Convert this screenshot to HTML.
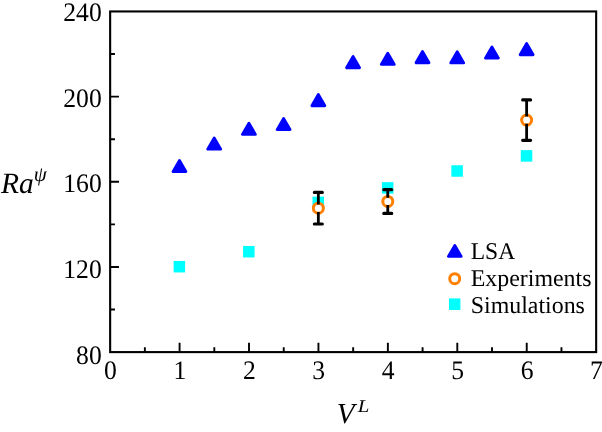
<!DOCTYPE html>
<html><head><meta charset="utf-8"><title>Ra vs V</title>
<style>
html,body{margin:0;padding:0;background:#fff;}
svg{display:block;}
text{font-family:"Liberation Serif","Times New Roman",serif;fill:#000;text-rendering:geometricPrecision;}
.tk{font-size:26.7px;}
.lg{font-size:24px;}
.ax{font-size:29px;font-style:italic;}
.sup{font-size:20px;font-style:italic;}
</style></head><body>
<svg width="602" height="432" viewBox="0 0 602 432">
<rect width="602" height="432" fill="#fff"/>
<rect x="110.15" y="11.45" width="486.01" height="340.65" fill="none" stroke="#000" stroke-width="2.1"/>
<path d="M144.87 352.10v-4.9 M179.58 352.10v-9.3 M214.30 352.10v-4.9 M249.01 352.10v-9.3 M283.73 352.10v-4.9 M318.44 352.10v-9.3 M353.16 352.10v-4.9 M387.87 352.10v-9.3 M422.59 352.10v-4.9 M457.30 352.10v-9.3 M492.01 352.10v-4.9 M526.73 352.10v-9.3 M561.45 352.10v-4.9 M110.15 309.52h4.8 M110.15 266.94h8.8 M110.15 224.36h4.8 M110.15 181.78h8.8 M110.15 139.19h4.8 M110.15 96.61h8.8 M110.15 54.03h4.8" stroke="#000" stroke-width="1.9" fill="none"/>
<text class="tk" transform="translate(101.7,21.0) scale(0.96,1)" text-anchor="end">240</text>
<text class="tk" transform="translate(101.7,106.5) scale(0.96,1)" text-anchor="end">200</text>
<text class="tk" transform="translate(101.7,192.4) scale(0.96,1)" text-anchor="end">160</text>
<text class="tk" transform="translate(101.7,277.9) scale(0.96,1)" text-anchor="end">120</text>
<text class="tk" transform="translate(101.7,364.3) scale(0.96,1)" text-anchor="end">80</text>
<text class="tk" transform="translate(110.45,379.0) scale(0.96,1)" text-anchor="middle">0</text>
<text class="tk" transform="translate(179.88,379.0) scale(0.96,1)" text-anchor="middle">1</text>
<text class="tk" transform="translate(249.31,379.0) scale(0.96,1)" text-anchor="middle">2</text>
<text class="tk" transform="translate(318.74,379.0) scale(0.96,1)" text-anchor="middle">3</text>
<text class="tk" transform="translate(388.17,379.0) scale(0.96,1)" text-anchor="middle">4</text>
<text class="tk" transform="translate(457.60,379.0) scale(0.96,1)" text-anchor="middle">5</text>
<text class="tk" transform="translate(527.03,379.0) scale(0.96,1)" text-anchor="middle">6</text>
<text class="tk" transform="translate(596.46,379.0) scale(0.96,1)" text-anchor="middle">7</text>
<text class="ax" x="1.1" y="192.7" style="font-size:29.5px">Ra</text>
<text class="sup" x="33.8" y="180.8" style="font-size:20.9px">ψ</text>
<text class="ax" x="336.8" y="423.2">V</text>
<text class="sup" transform="translate(357.7,412.4) scale(1.12,0.97)" style="font-size:18.6px">L</text>
<rect x="173.63" y="260.95" width="11.5" height="11.5" fill="#00ffff"/>
<rect x="243.06" y="245.95" width="11.5" height="11.5" fill="#00ffff"/>
<rect x="312.49" y="196.65" width="11.5" height="11.5" fill="#00ffff"/>
<rect x="381.92" y="182.15" width="11.5" height="11.5" fill="#00ffff"/>
<rect x="451.35" y="165.25" width="11.5" height="11.5" fill="#00ffff"/>
<rect x="520.78" y="150.15" width="11.5" height="11.5" fill="#00ffff"/>
<path d="M172.98 171.60L185.98 171.60L179.48 160.35Z" fill="#0000ff" stroke="#0000ff" stroke-width="2.8" stroke-linejoin="round"/>
<path d="M207.70 149.20L220.70 149.20L214.20 137.95Z" fill="#0000ff" stroke="#0000ff" stroke-width="2.8" stroke-linejoin="round"/>
<path d="M242.41 134.40L255.41 134.40L248.91 123.15Z" fill="#0000ff" stroke="#0000ff" stroke-width="2.8" stroke-linejoin="round"/>
<path d="M277.12 129.60L290.12 129.60L283.62 118.35Z" fill="#0000ff" stroke="#0000ff" stroke-width="2.8" stroke-linejoin="round"/>
<path d="M311.84 105.80L324.84 105.80L318.34 94.55Z" fill="#0000ff" stroke="#0000ff" stroke-width="2.8" stroke-linejoin="round"/>
<path d="M346.56 67.80L359.56 67.80L353.06 56.55Z" fill="#0000ff" stroke="#0000ff" stroke-width="2.8" stroke-linejoin="round"/>
<path d="M381.27 64.40L394.27 64.40L387.77 53.15Z" fill="#0000ff" stroke="#0000ff" stroke-width="2.8" stroke-linejoin="round"/>
<path d="M415.99 62.80L428.99 62.80L422.49 51.55Z" fill="#0000ff" stroke="#0000ff" stroke-width="2.8" stroke-linejoin="round"/>
<path d="M450.70 62.90L463.70 62.90L457.20 51.65Z" fill="#0000ff" stroke="#0000ff" stroke-width="2.8" stroke-linejoin="round"/>
<path d="M485.41 58.10L498.41 58.10L491.91 46.85Z" fill="#0000ff" stroke="#0000ff" stroke-width="2.8" stroke-linejoin="round"/>
<path d="M520.13 54.80L533.13 54.80L526.63 43.55Z" fill="#0000ff" stroke="#0000ff" stroke-width="2.8" stroke-linejoin="round"/>
<circle cx="318.34" cy="208.2" r="5.0" fill="#fff" stroke="#ff8000" stroke-width="3.0"/>
<path d="M318.34 192.4V204.50M318.34 211.90V224.0" stroke="#000" stroke-width="2.8" fill="none"/>
<path d="M314.39 192.4h7.9M314.39 224.0h7.9" stroke="#000" stroke-width="3.2" stroke-linecap="round" fill="none"/>
<circle cx="387.77" cy="201.4" r="5.0" fill="#fff" stroke="#ff8000" stroke-width="3.0"/>
<path d="M387.77 189.7V197.70M387.77 205.10V213.4" stroke="#000" stroke-width="2.8" fill="none"/>
<path d="M383.82 189.7h7.9M383.82 213.4h7.9" stroke="#000" stroke-width="3.2" stroke-linecap="round" fill="none"/>
<circle cx="526.63" cy="120.1" r="5.0" fill="#fff" stroke="#ff8000" stroke-width="3.0"/>
<path d="M526.63 99.95V116.40M526.63 123.80V140.3" stroke="#000" stroke-width="2.8" fill="none"/>
<path d="M522.68 99.95h7.9M522.68 140.3h7.9" stroke="#000" stroke-width="3.2" stroke-linecap="round" fill="none"/>
<path d="M448.40 256.40L461.20 256.40L454.80 245.50Z" fill="#0000ff" stroke="#0000ff" stroke-width="2.8" stroke-linejoin="round"/>
<circle cx="454.7" cy="278.7" r="5.0" fill="#fff" stroke="#ff8000" stroke-width="3.0"/>
<rect x="449" y="298.4" width="11.4" height="11.6" fill="#00ffff"/>
<text class="lg" transform="translate(470.7,258.5) scale(0.98,1)">LSA</text>
<text class="lg" transform="translate(470.7,285.5) scale(0.996,1)">Experiments</text>
<text class="lg" transform="translate(470.7,312.75) scale(0.996,1)">Simulations</text>
</svg></body></html>
